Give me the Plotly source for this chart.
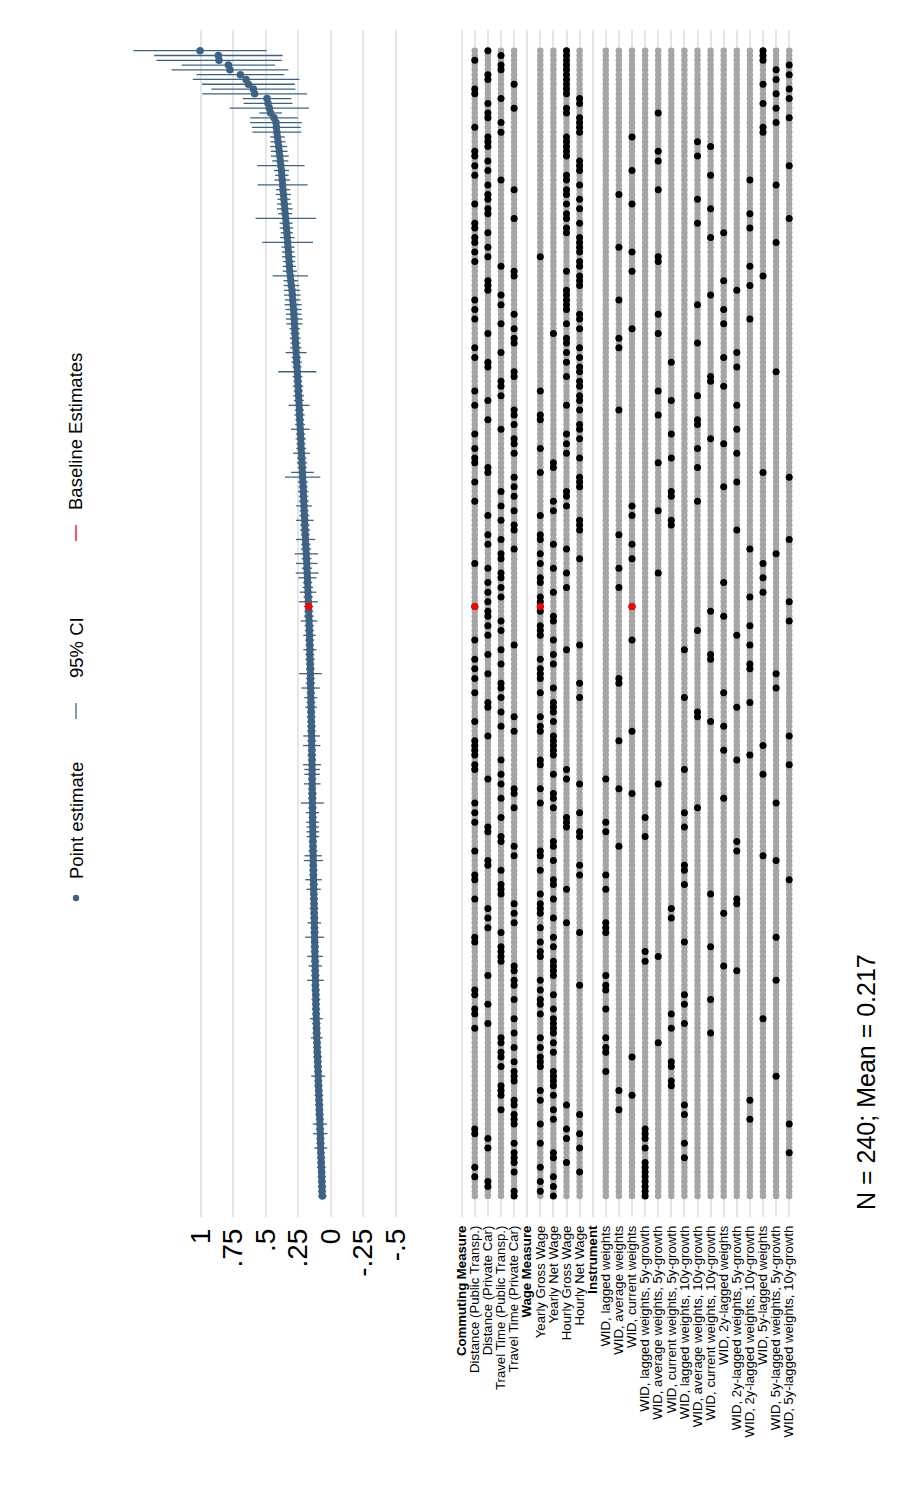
import plotly.graph_objects as go

# page is rendered with an 8px body margin, so the figure is drawn 8px in from the page corner
PAGE_W, PAGE_H = 907, 1510
OFF = 8
W, H = PAGE_W - 2 * OFF, PAGE_H - 2 * OFF
FONT = "Liberation Sans, Arial, sans-serif"

# ---------------- data ----------------
commuting_labels = ["Distance (Public Transp.)", "Distance (Private Car)",
                    "Travel Time (Public Transp.)", "Travel Time (Private Car)"]
wage_labels = ["Yearly Gross Wage", "Yearly Net Wage", "Hourly Gross Wage", "Hourly Net Wage"]
instrument_labels = ["WID, lagged weights", "WID, average weights", "WID, current weights",
                     "WID, lagged weights, 5y-growth", "WID, average weights, 5y-growth",
                     "WID, current weights, 5y-growth", "WID, lagged weights, 10y-growth",
                     "WID, average weights, 10y-growth", "WID, current weights, 10y-growth",
                     "WID, 2y-lagged weights", "WID, 2y-lagged weights, 5y-growth",
                     "WID, 2y-lagged weights, 10y-growth", "WID, 5y-lagged weights",
                     "WID, 5y-lagged weights, 5y-growth", "WID, 5y-lagged weights, 10y-growth"]
value_ticks = [1, 0.75, 0.5, 0.25, 0, -0.25, -0.5]
value_tick_text = ["1", ".75", ".5", ".25", "0", "-.25", "-.5"]

# all lists run from the largest estimate (rank 240) down to the smallest (rank 1)
estimate = [
    1.005, 0.864, 0.859, 0.787, 0.775, 0.695, 0.651, 0.633, 0.595, 0.585, 0.490, 0.482, 0.472, 0.462, 0.436, 0.421,
    0.418, 0.414, 0.410, 0.405, 0.400, 0.396, 0.392, 0.388, 0.383, 0.379,
    0.376, 0.373, 0.370, 0.367, 0.364, 0.360, 0.357, 0.353, 0.350, 0.346,
    0.343, 0.340, 0.337, 0.334, 0.331, 0.328, 0.326, 0.323, 0.320, 0.318,
    0.315, 0.311, 0.307, 0.303, 0.298, 0.295, 0.292, 0.289, 0.286, 0.284,
    0.281, 0.279, 0.277, 0.275, 0.273, 0.271, 0.268, 0.266, 0.264, 0.262,
    0.259, 0.257, 0.255, 0.253, 0.251, 0.249, 0.247, 0.245, 0.243, 0.241,
    0.240, 0.238, 0.236, 0.234, 0.232, 0.230, 0.229, 0.227, 0.225, 0.223,
    0.221, 0.219, 0.217, 0.216, 0.214, 0.212, 0.211, 0.209, 0.207, 0.205,
    0.204, 0.202, 0.200, 0.199, 0.197, 0.196, 0.194, 0.192, 0.190, 0.188,
    0.186, 0.184, 0.183, 0.181, 0.179, 0.178, 0.176, 0.175, 0.173, 0.172,
    0.170, 0.169, 0.168, 0.166, 0.165, 0.164, 0.163, 0.162, 0.161, 0.160,
    0.160, 0.159, 0.158, 0.157, 0.156, 0.156, 0.155, 0.154, 0.153, 0.153,
    0.152, 0.151, 0.150, 0.150, 0.149, 0.148, 0.148, 0.147, 0.146, 0.146,
    0.145, 0.145, 0.144, 0.144, 0.143, 0.143, 0.143, 0.142, 0.142, 0.141,
    0.141, 0.141, 0.140, 0.140, 0.139, 0.139, 0.138, 0.138, 0.137, 0.137,
    0.136, 0.136, 0.135, 0.134, 0.134, 0.133, 0.133, 0.132, 0.131, 0.131,
    0.130, 0.129, 0.128, 0.128, 0.127, 0.126, 0.126, 0.125, 0.124, 0.124,
    0.123, 0.122, 0.122, 0.121, 0.120, 0.119, 0.119, 0.118, 0.117, 0.117,
    0.116, 0.115, 0.114, 0.114, 0.113, 0.112, 0.111, 0.110, 0.109, 0.108,
    0.107, 0.105, 0.104, 0.103, 0.101, 0.100, 0.099, 0.097, 0.096, 0.095,
    0.094, 0.092, 0.091, 0.090, 0.088, 0.087, 0.086, 0.084, 0.083, 0.082,
    0.080, 0.079, 0.078, 0.077, 0.076, 0.074, 0.073, 0.072, 0.070, 0.069,
    0.068, 0.067, 0.066, 0.064,
]

ci_half = [
    0.513, 0.494, 0.482, 0.359, 0.449, 0.337, 0.410, 0.357, 0.323, 0.403, 0.187, 0.188, 0.305, 0.087, 0.183, 0.199, 0.187, 0.188,
    0.056, 0.058, 0.066, 0.064, 0.070, 0.062,
    0.182,
    0.058, 0.052, 0.060,
    0.192,
    0.055, 0.058, 0.050, 0.056, 0.060, 0.054,
    0.232,
    0.050, 0.052, 0.048, 0.055,
    0.195,
    0.050, 0.048, 0.052, 0.046, 0.050, 0.054,
    0.136,
    0.056, 0.060, 0.062, 0.064, 0.060, 0.066, 0.062, 0.060, 0.064, 0.062,
    0.040, 0.036, 0.042, 0.038, 0.044,
    0.081,
    0.036, 0.040, 0.034,
    0.147,
    0.038, 0.034, 0.040, 0.036, 0.042, 0.038,
    0.081,
    0.036, 0.040, 0.034, 0.038,
    0.072,
    0.036, 0.040, 0.034, 0.038,
    0.064,
    0.036, 0.040, 0.034,
    0.087, 0.136,
    0.038, 0.034, 0.040, 0.036, 0.038,
    0.060,
    0.034, 0.038,
    0.068,
    0.036, 0.040, 0.034,
    0.074,
    0.036, 0.040,
    0.090, 0.038, 0.083, 0.040, 0.088, 0.070,
    0.036, 0.040,
    0.064, 0.036, 0.073, 0.036,
    0.034, 0.038,
    0.064,
    0.036, 0.034,
    0.048,
    0.036, 0.032,
    0.050,
    0.034, 0.036, 0.032, 0.034,
    0.087,
    0.034, 0.036,
    0.070, 0.032, 0.050, 0.034, 0.045,
    0.032, 0.034, 0.030, 0.034, 0.032,
    0.064, 0.034, 0.067,
    0.032, 0.034, 0.030,
    0.070, 0.060, 0.060, 0.032, 0.064,
    0.030, 0.034, 0.032,
    0.088, 0.032, 0.050, 0.030,
    0.050, 0.048, 0.050, 0.048,
    0.032, 0.030, 0.034,
    0.067, 0.073,
    0.030, 0.032, 0.030,
    0.064, 0.032, 0.055,
    0.030, 0.032, 0.030, 0.034, 0.030, 0.032,
    0.052,
    0.030, 0.032,
    0.073,
    0.030, 0.032, 0.030,
    0.060, 0.032, 0.052,
    0.030, 0.032,
    0.064,
    0.030, 0.032, 0.030, 0.034, 0.030, 0.032, 0.030,
    0.050,
    0.032, 0.030, 0.032,
    0.045,
    0.030, 0.032, 0.030, 0.034, 0.030, 0.032, 0.030,
    0.054,
    0.030, 0.032, 0.030, 0.034, 0.030, 0.032, 0.030, 0.032, 0.030,
    0.055, 0.032, 0.055,
    0.030, 0.032,
    0.050,
    0.030, 0.032, 0.030, 0.034, 0.030, 0.032, 0.030, 0.032, 0.030, 0.032,
]

# index into commuting_labels
commuting = [
    1, 2, 0, 2, 2, 1, 1, 3, 0, 0, 2, 1, 3, 1, 1, 2, 0, 2, 1, 1, 1, 0, 0, 1, 0, 1, 0, 2, 1,
    3, 1, 1, 0, 1, 1, 3, 0, 0, 1, 0, 0, 1, 0, 1, 0, 2, 3, 3, 1, 1, 1, 2, 0, 2, 0, 3, 0, 2, 3,
    1, 3, 3, 0, 2, 0, 1, 1, 3, 3, 2, 2, 0, 2, 1, 0, 3, 3, 1, 3, 2, 0, 3, 3, 0, 3, 0, 0, 1, 1,
    3, 0, 3, 2, 3, 0, 2, 3, 1, 2, 3, 3, 1, 2, 1, 3, 2, 2, 0, 1, 2, 2, 1, 2, 1, 2, 1, 0, 1, 1,
    2, 1, 2, 1, 0, 3, 2, 1, 0, 2, 0, 1, 0, 2, 2, 0, 2, 1, 1, 2, 3, 0, 2, 3, 1, 0, 0, 0, 0, 2,
    0, 0, 2, 1, 2, 3, 3, 2, 0, 3, 0, 2, 0, 1, 1, 2, 2, 3, 0, 3, 1, 1, 2, 0, 0, 2, 2, 2, 0, 3, 1,
    3, 1, 3, 1, 2, 0, 0, 2, 2, 2, 2, 3, 3, 1, 3, 3, 0, 0, 3, 1, 0, 0, 3, 1, 0, 3, 2, 2, 3, 2,
    2, 3, 2, 3, 3, 3, 2, 2, 2, 3, 3, 2, 3, 3, 3, 0, 0, 1, 3, 1, 3, 3, 3, 0, 3, 0, 1, 1, 3, 3,
]

# index into wage_labels
wage = [
    2, 2, 2, 2, 2, 2, 2, 2, 2, 2, 3, 3, 2, 2, 3, 3, 3, 3, 2, 2, 2, 2, 2, 3, 3, 3, 2, 2, 3,
    2, 2, 3, 2, 3, 2, 2, 3, 2, 2, 3, 3, 3, 3, 0, 3, 3, 2, 3, 3, 3, 2, 2, 2, 2, 2, 3, 3, 2, 3,
    1, 2, 2, 3, 2, 3, 2, 3, 3, 2, 3, 3, 0, 3, 3, 2, 3, 0, 0, 3, 3, 2, 3, 2, 0, 2, 3, 1, 1, 0,
    3, 3, 3, 2, 2, 1, 2, 1, 0, 3, 3, 3, 0, 0, 1, 2, 0, 3, 0, 1, 2, 0, 0, 2, 1, 0, 0, 0, 0, 1,
    1, 0, 0, 0, 1, 3, 2, 1, 0, 1, 0, 0, 0, 3, 1, 0, 3, 1, 1, 1, 0, 1, 0, 0, 1, 1, 1, 1, 1, 0,
    0, 2, 1, 2, 3, 0, 1, 1, 0, 1, 3, 2, 2, 2, 3, 3, 1, 1, 0, 0, 1, 3, 0, 3, 1, 1, 2, 0, 1, 0, 0,
    0, 1, 2, 0, 3, 1, 0, 1, 0, 0, 1, 1, 1, 1, 0, 3, 0, 1, 0, 0, 1, 0, 1, 1, 1, 1, 0, 1, 0, 1,
    0, 0, 0, 1, 1, 1, 1, 0, 1, 0, 2, 1, 3, 1, 0, 2, 3, 2, 0, 3, 1, 1, 2, 0, 3, 1, 0, 1, 0, 1,
]

# index into instrument_labels
instrument = [
    12, 12, 12, 14, 13, 14, 13, 12, 14, 13, 14, 12, 13, 4, 14, 13, 12, 12, 2, 7, 8, 4, 7, 4, 14, 2, 8, 11, 13,
    4, 1, 7, 2, 8, 11, 14, 7, 11, 9, 8, 13, 1, 2, 4, 4, 11, 2, 12, 9, 11, 10, 8, 1, 7, 9, 4, 11, 9, 2,
    4, 1, 7, 1, 10, 9, 5, 10, 13, 8, 8, 9, 4, 7, 5, 10, 1, 4, 7, 7, 10, 5, 8, 9, 7, 10, 5, 4, 7, 12,
    14, 10, 9, 5, 5, 7, 2, 4, 2, 5, 5, 10, 1, 14, 2, 11, 13, 2, 12, 1, 4, 12, 9, 1, 12, 11, 14, 2, 8, 9,
    14, 11, 7, 10, 2, 11, 6, 8, 8, 11, 11, 13, 1, 1, 13, 9, 6, 11, 10, 7, 7, 8, 9, 2, 14, 1, 12, 9, 11, 10,
    14, 6, 12, 0, 4, 1, 2, 9, 13, 7, 6, 3, 0, 6, 0, 3, 10, 1, 10, 12, 13, 6, 6, 0, 14, 6, 0, 8, 10, 10, 5,
    9, 5, 0, 0, 0, 13, 6, 8, 3, 4, 3, 9, 10, 0, 13, 0, 0, 6, 8, 6, 0, 5, 12, 6, 5, 8, 0, 4, 0, 0,
    2, 5, 5, 0, 13, 5, 5, 1, 2, 11, 6, 1, 6, 11, 14, 3, 3, 3, 6, 3, 14, 6, 3, 3, 3, 3, 3, 3, 3, 3,
]

n_specs = 240
baseline_rank = 124
note_text = "N = 240; Mean = 0.217"

for name, arr in [("estimate", estimate), ("ci_half", ci_half), ("commuting", commuting),
                  ("wage", wage), ("instrument", instrument)]:
    assert len(arr) == n_specs, (name, len(arr))

rank = [n_specs - i for i in range(n_specs)]

# ---------------- layout helpers (page pixel -> paper fraction) ----------------
def fx(p):
    return (p - OFF) / W

def fy(p):
    return 1 - (p - OFF) / H

EST_COLOR = "#3e6283"
GRAY = "#a5a5a5"
GRID = "#e6e6e6"

# indicator column positions (header columns at 0, 5, 10)
col_commuting = [1 + c for c in range(len(commuting_labels))]
col_wage = [6 + c for c in range(len(wage_labels))]
col_instr = [11 + c for c in range(len(instrument_labels))]
indicator_cols = col_commuting + col_wage + col_instr
tick_text = (["<b>Commuting Measure</b>"] + commuting_labels + ["<b>Wage Measure</b>"]
             + wage_labels + ["<b>Instrument</b>"] + instrument_labels)
tick_vals = list(range(len(tick_text)))

fig = go.Figure()

# --- estimates panel ---
fig.add_trace(go.Scatter(
    x=estimate, y=rank, mode="markers", xaxis="x", yaxis="y",
    marker=dict(color=EST_COLOR, size=7.5),
    error_x=dict(type="data", array=ci_half, symmetric=True, color=EST_COLOR, thickness=1.3, width=0),
    showlegend=False, hoverinfo="skip"))

b_idx = rank.index(baseline_rank)
fig.add_trace(go.Scatter(
    x=[estimate[b_idx]], y=[baseline_rank], mode="markers", xaxis="x", yaxis="y",
    marker=dict(color="#ff0000", size=7.5), showlegend=False, hoverinfo="skip"))

# --- indicator panel ---
gx, gy = [], []
for c in indicator_cols:
    gx += [c] * n_specs
    gy += rank
fig.add_trace(go.Scatter(x=gx, y=gy, mode="markers", xaxis="x2", yaxis="y",
                         marker=dict(color=GRAY, size=6.5), showlegend=False, hoverinfo="skip"))

bx, by = [], []
for i in range(n_specs):
    for c in (col_commuting[commuting[i]], col_wage[wage[i]], col_instr[instrument[i]]):
        bx.append(c)
        by.append(rank[i])
fig.add_trace(go.Scatter(x=bx, y=by, mode="markers", xaxis="x2", yaxis="y",
                         marker=dict(color="#000000", size=7), showlegend=False, hoverinfo="skip"))

fig.add_trace(go.Scatter(
    x=[col_commuting[commuting[b_idx]], col_wage[wage[b_idx]], col_instr[instrument[b_idx]]],
    y=[baseline_rank] * 3, mode="markers", xaxis="x2", yaxis="y",
    marker=dict(color="#ff0000", size=7), showlegend=False, hoverinfo="skip"))

# ---------------- axes (page pixel positions) ----------------
x_left_px, x_right_px = 125, 420
zero_px, px_per_unit = 330.7, 130.0
x2_left_px, x2_right_px = 450, 800
col0_px, col_step = 461.7, 13.1
y_top_px, y_bot_px = 30, 1217
row_top_px, row_step = 50.7, 4.792

fig.update_layout(
    width=W, height=H, margin=dict(l=0, r=0, t=0, b=0),
    paper_bgcolor="white", plot_bgcolor="white",
    font=dict(family=FONT, color="black"),
    xaxis=dict(domain=[fx(x_left_px), fx(x_right_px)],
               range=[(zero_px - x_left_px) / px_per_unit, (zero_px - x_right_px) / px_per_unit],
               tickvals=value_ticks, ticktext=value_tick_text, tickangle=-90,
               tickfont=dict(size=28, family=FONT, color="black"),
               showgrid=True, gridcolor=GRID, gridwidth=2, zeroline=False, showline=False,
               ticks="", ticklabelstandoff=5, anchor="y"),
    xaxis2=dict(domain=[fx(x2_left_px), fx(x2_right_px)],
                range=[(x2_left_px - col0_px) / col_step, (x2_right_px - col0_px) / col_step],
                tickvals=tick_vals, ticktext=tick_text, tickangle=-90,
                tickfont=dict(size=13.2, family=FONT, color="black"),
                showgrid=True, gridcolor=GRID, gridwidth=2, zeroline=False, showline=False,
                ticks="", ticklabelstandoff=5, anchor="y"),
    yaxis=dict(domain=[fy(y_bot_px), fy(y_top_px)],
               range=[n_specs - (y_bot_px - row_top_px) / row_step,
                      n_specs + (row_top_px - y_top_px) / row_step],
               showgrid=False, zeroline=False, showticklabels=False, showline=False, ticks=""),
)

# ---------------- legend (rotated) ----------------
LEG_X = 76
fig.add_shape(type="circle", xref="paper", yref="paper",
              x0=fx(LEG_X - 3.2), x1=fx(LEG_X + 3.2), y0=fy(898 + 3.2), y1=fy(898 - 3.2),
              fillcolor=EST_COLOR, line=dict(width=0))
fig.add_shape(type="line", xref="paper", yref="paper",
              x0=fx(LEG_X), x1=fx(LEG_X), y0=fy(703), y1=fy(719),
              line=dict(color=EST_COLOR, width=1.3))
fig.add_shape(type="line", xref="paper", yref="paper",
              x0=fx(LEG_X), x1=fx(LEG_X), y0=fy(525), y1=fy(541),
              line=dict(color="#ff0000", width=1.3))

for txt, cy in [("Point estimate", 821), ("95% CI", 648), ("Baseline Estimates", 432)]:
    fig.add_annotation(text=txt, xref="paper", yref="paper", x=fx(LEG_X), y=fy(cy),
                       xanchor="center", yanchor="middle", textangle=-90, showarrow=False,
                       font=dict(size=18.5, family=FONT, color="black"))

fig.add_annotation(text=note_text, xref="paper", yref="paper", x=fx(866), y=fy(1082),
                   xanchor="center", yanchor="middle", textangle=-90, showarrow=False,
                   font=dict(size=25, family=FONT, color="black"))

fig.write_html("out.html")
